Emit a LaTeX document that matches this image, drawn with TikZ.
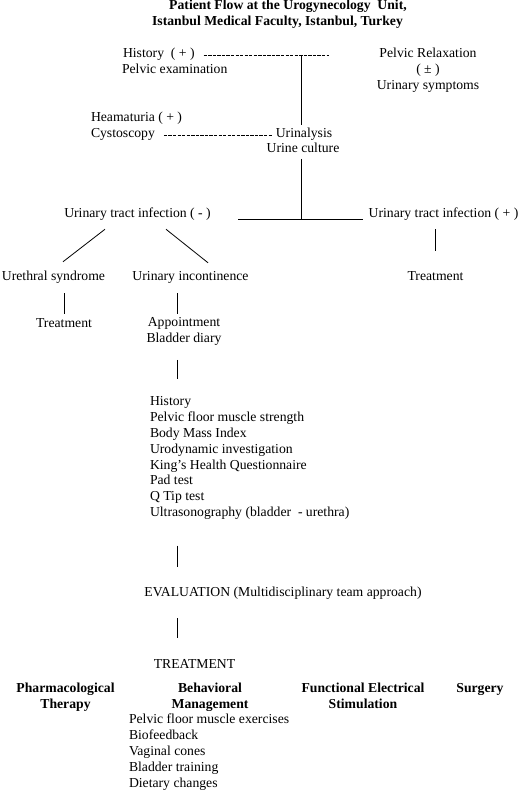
\documentclass[tikz,border=0pt]{standalone}
\usepackage{fontspec}
\setmainfont{Liberation Serif}
\usetikzlibrary{calc}
\begin{document}
\begin{tikzpicture}[x=1bp,y=-1bp,
  every node/.style={inner sep=0pt, outer sep=0pt, font=\fontsize{13.7bp}{15.9bp}\selectfont},
  txt/.style={text height=9.5bp, text depth=3bp},
  ttl/.style={txt, font=\fontsize{13.7bp}{15.9bp}\selectfont\bfseries},
  hd/.style={align=center, font=\fontsize{13.7bp}{15.9bp}\selectfont\bfseries},
  conn/.style={line width=0.8bp},
  dashconn/.style={line width=0.9bp, dash pattern=on 3.3bp off 1.25bp},
]
\useasboundingbox (0,0) rectangle (520,790);

% title
\node[ttl] (t1) at (288,6) {Patient Flow at the Urogynecology\ \ Unit,};
\node[ttl] (t2) at (277.5,22) {Istanbul Medical Faculty, Istanbul, Turkey};

% top part
\node[txt, anchor=west] (histA) at (123,54) {History\ \ ( + )};
\node[txt, anchor=west] (histB) at (122,70) {Pelvic examination};
\node[align=center] (relax) at (428,70) {Pelvic Relaxation\\( ± )\\Urinary symptoms};
\node[txt, anchor=west] (hemA) at (91,118) {Heamaturia ( + )};
\node[txt, anchor=west] (hemB) at (91,134) {Cystoscopy};
\node[txt] (uriA) at (304,134) {Urinalysis};
\node[txt] (uriB) at (303,149.5) {Urine culture};

\coordinate (dEnd) at (329,55);
\coordinate (vx) at (301,55);
\coordinate (J) at (301,219);
\coordinate (hl) at (238,219);
\coordinate (hr) at (363,219);

\draw[dashconn] ([xshift=9bp]histA.east |- dEnd) -- (dEnd);
\draw[dashconn] ([xshift=9bp]hemB.east |- 0,135) -- ([xshift=-4bp]uriA.west |- 0,135);
\draw[conn] (vx) -- ($(vx |- uriA.north)+(0,-3)$);
\draw[conn] ($(J |- uriB.south)+(0,3)$) -- (J);
\draw[conn] (hl) -- (hr);

% UTI level
\node[txt] (utiNeg) at (137.5,214) {Urinary tract infection ( - )};
\node[txt] (utiPos) at (443.5,214) {Urinary tract infection ( + )};
\node[txt] (ureth) at (53.5,277) {Urethral syndrome};
\node[txt] (incont) at (190.5,277) {Urinary incontinence};
\node[txt] (treatR) at (435.5,277) {Treatment};
\node[txt] (treatL) at (64,324) {Treatment};
\node[align=center] (appt) at (184,331) {Appointment\\Bladder diary};

\draw[conn] ($(utiNeg.south)+(-32.5,9)$) -- ($(ureth.north)+(9.5,-9)$);
\draw[conn] ($(utiNeg.south)+(28.5,9)$) -- ($(incont.north)+(17.5,-8)$);
\draw[conn] ($(treatR.north |- utiPos.south)+(0,9)$) -- ($(treatR.north)+(0,-20)$);
\draw[conn] ($(treatL.north |- ureth.south)+(0,10)$) -- ($(treatL.north)+(0,-4)$);

\coordinate (vx2) at (177,0);
\draw[conn] ($(vx2 |- incont.south)+(0,10)$) -- ($(vx2 |- appt.north)+(0,-3.5)$);

% assessment list
\node[align=left, anchor=west] (list) at (150,458) {History\\Pelvic floor muscle strength\\Body Mass Index\\Urodynamic investigation\\King’s Health Questionnaire\\Pad test\\Q Tip test\\Ultrasonography (bladder\ \ - urethra)};
\draw[conn] ($(vx2 |- appt.south)+(0,15)$) -- ($(vx2 |- list.north)+(0,-17)$);

\node[txt] (eval) at (283,593) {EVALUATION (Multidisciplinary team approach)};
\draw[conn] ($(vx2 |- list.south)+(0,26)$) -- ($(vx2 |- eval.north)+(0,-20)$);

\node[txt] (treat) at (194.5,665) {TREATMENT};
\draw[conn] ($(vx2 |- eval.south)+(0,19)$) -- ($(vx2 |- treat.north)+(0,-21)$);

% treatment options
\node[hd] (pharm) at (65.5,697.5) {Pharmacological\\Therapy};
\node[hd] (behav) at (210,697.5) {Behavioral\\Management};
\node[hd] (fes) at (363,695.5) {Functional Electrical\\Stimulation};
\node[ttl] (surg) at (480,689) {Surgery};
\node[align=left, anchor=west] (blist) at (129,752) {Pelvic floor muscle exercises\\Biofeedback\\Vaginal cones\\Bladder training\\Dietary changes};
\end{tikzpicture}
\end{document}
